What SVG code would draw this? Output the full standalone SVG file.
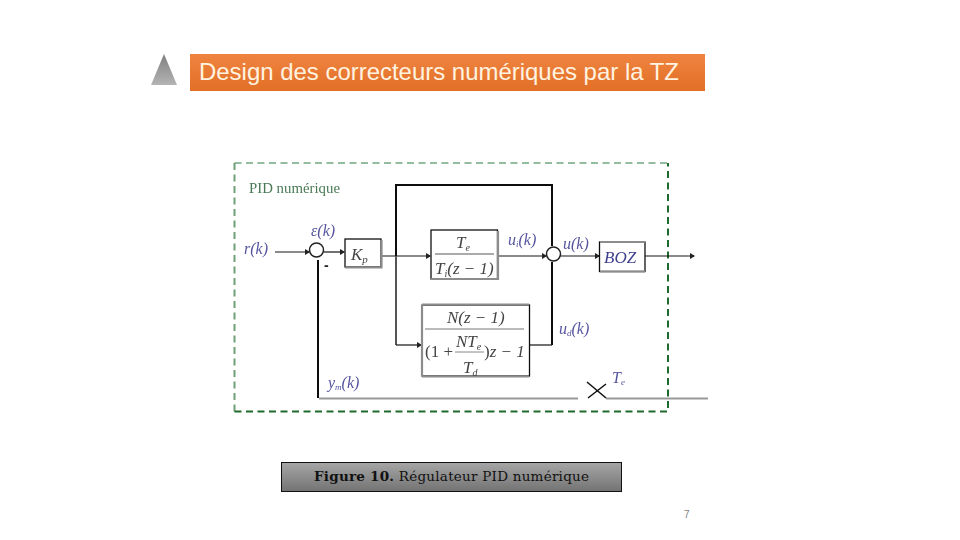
<svg xmlns="http://www.w3.org/2000/svg" width="960" height="540" viewBox="0 0 960 540">
<defs>
<linearGradient id="tri" x1="0" y1="0" x2="0" y2="1"><stop offset="0" stop-color="#7f7f7f"/><stop offset="1" stop-color="#b4b4b4"/></linearGradient>
<linearGradient id="cap" x1="0" y1="0" x2="0" y2="1"><stop offset="0" stop-color="#a6a6a6"/><stop offset="1" stop-color="#737373"/></linearGradient>
<linearGradient id="bar" x1="0" y1="0" x2="0" y2="1"><stop offset="0" stop-color="#ef8440"/><stop offset="1" stop-color="#e26f26"/></linearGradient>
<marker id="a" markerWidth="5" markerHeight="6" refX="4" refY="3" orient="auto" markerUnits="userSpaceOnUse"><path d="M0,0 L5,3 L0,6 Z" fill="#222"/></marker>
<filter id="soft" x="-5%" y="-5%" width="110%" height="110%"><feGaussianBlur stdDeviation="0.35"/></filter>
</defs>
<style>
.w{fill:none;stroke:#1a1a1a;stroke-width:1.2}
.t{fill:none;stroke:#111;stroke-width:2}
.d{fill:none;stroke:#555;stroke-width:2}
.g{fill:none;stroke:#999;stroke-width:2}
.box{fill:#fff;stroke:#111;stroke-width:1.3}
.sh{fill:none;stroke:#8c8c8c;stroke-width:2.200}
.sig{font-family:"Liberation Serif",serif;font-style:italic;font-size:16px;fill:#55559f}
.m{font-family:"Liberation Serif",serif;font-style:italic;font-size:17px;fill:#444}
.r{font-family:"Liberation Serif",serif;font-size:17px;fill:#444}
.soft{filter:url(#soft)}
</style>
<rect width="960" height="540" fill="#fff"/>
<g id="title">
<polygon points="164,54 177,85 151,85" fill="url(#tri)"/>
<rect x="190" y="54" width="515" height="37" fill="url(#bar)"/>
<text x="199" y="80" font-family="Liberation Sans,Arial,sans-serif" font-size="24" fill="#fff3e0" textLength="480" lengthAdjust="spacingAndGlyphs">Design des correcteurs numériques par la TZ</text>
</g>
<g id="pid-frame" class="soft">
<path d="M234.500,163 H668" fill="none" stroke="#2f7a3d" stroke-width="1.200" stroke-dasharray="7 4.500"/>
<path d="M234.500,163 V411.500" fill="none" stroke="#6f9f78" stroke-width="2" stroke-dasharray="7 4.500"/>
<path d="M234.500,411.500 H668 V163" fill="none" stroke="#1f6b2d" stroke-width="2" stroke-dasharray="7 4.500"/>
<text x="249" y="193" font-family="Liberation Serif,serif" font-size="15" fill="#4a7a55" textLength="91" lengthAdjust="spacingAndGlyphs">PID numérique</text>
</g>
<g id="connectors" class="soft">
<path class="w" d="M275,252 H309" marker-end="url(#a)"/>
<path class="w" d="M324,252 H344" marker-end="url(#a)"/>
<path class="w" d="M382,256 H430" marker-end="url(#a)"/>
<path class="t" d="M396,256 V185 H552 V246"/>
<path class="d" d="M396,256 V345"/>
<path class="w" d="M396,345 H421" marker-end="url(#a)"/>
<path class="w" d="M498,256 H546" marker-end="url(#a)"/>
<path class="t" d="M552,345 V262"/>
<path class="w" d="M530,345 H552"/>
<path class="w" d="M561,256 H599" marker-end="url(#a)"/>
<path class="w" d="M645,256 H694" marker-end="url(#a)"/>
<path class="t" d="M318,398 V260"/>
<path class="g" d="M319,398.500 H578"/>
<path class="g" d="M606,398.500 H708"/>
<path d="M587,382 L606,398 M588,398 L606,384" fill="none" stroke="#111" stroke-width="1.500"/>
</g>
<g id="sum1" class="soft"><circle cx="316.500" cy="250" r="7" fill="#fff" stroke="#222" stroke-width="1.500"/></g>
<g id="sum2" class="soft"><circle cx="553.500" cy="254" r="7" fill="#fff" stroke="#222" stroke-width="1.500"/></g>
<g id="kp" class="soft">
<rect class="box" x="345" y="239" width="36" height="28"/>
<path class="sh" d="M345,267.500 H381.500 V240"/>
<text class="m" x="351" y="260">K<tspan font-size="11" dy="3">p</tspan></text>
</g>
<g id="ti" class="soft">
<rect class="box" x="431" y="230" width="66.500" height="49"/>
<path class="sh" d="M431,279 H498 V231"/>
<path d="M435,254 H494" stroke="#aaa" stroke-width="2"/>
<text class="m" x="456" y="248">T<tspan font-size="10" dy="3">e</tspan></text>
<text class="m" x="435" y="274">T<tspan font-size="10" dy="3">i</tspan><tspan dy="-3">(z − 1)</tspan></text>
</g>
<g id="td" class="soft">
<rect class="box" x="422" y="305" width="107.500" height="71"/>
<path class="sh" d="M422,304.500 H529 M422,376.500 H529 M422,305 V376"/>
<path d="M425,329 H524" stroke="#777" stroke-width="1"/>
<path d="M455,352 H484" stroke="#888" stroke-width="1"/>
<text class="m" x="447" y="323">N(z − 1)</text>
<text class="r" x="425" y="357">(1 +</text>
<text class="m" x="456" y="347">NT<tspan font-size="10" dy="3">e</tspan></text>
<text class="m" x="463" y="373">T<tspan font-size="10" dy="3">d</tspan></text>
<text class="m" x="484" y="357"><tspan font-style="normal">)</tspan>z − 1</text>
</g>
<g id="boz" class="soft">
<rect class="box" x="599.500" y="242" width="45.500" height="29.500"/>
<path class="sh" d="M600,242 H645 M600,271.500 H645"/>
<text x="604" y="263" font-family="Liberation Serif,serif" font-style="italic" font-size="17" fill="#3f3f8f">BOZ</text>
</g>
<g id="labels" class="soft">
<text class="sig" x="244" y="254">r(k)</text>
<text class="sig" x="311" y="236">ε(k)</text>
<text class="sig" x="508" y="245">u<tspan font-size="9" dy="2">i</tspan><tspan dy="-2">(k)</tspan></text>
<text class="sig" x="563" y="249">u(k)</text>
<text class="sig" x="559" y="334">u<tspan font-size="9" dy="2">d</tspan><tspan dy="-2">(k)</tspan></text>
<text class="sig" x="328" y="388">y<tspan font-size="9" dy="2">m</tspan><tspan dy="-2">(k)</tspan></text>
<text class="sig" x="612" y="383">T<tspan font-size="9" dy="2">e</tspan></text>
<text x="324" y="270" font-family="Liberation Sans,Arial,sans-serif" font-size="14" font-weight="700" fill="#222">-</text>
</g>
<g id="caption">
<rect x="281.500" y="462.500" width="340" height="29" fill="url(#cap)" stroke="#111" stroke-width="1"/>
<text x="314" y="481" font-family="DejaVu Serif,serif" font-size="13.500" fill="#111" textLength="275" lengthAdjust="spacing"><tspan font-weight="700">Figure 10.</tspan> Régulateur PID numérique</text>
</g>
<text id="page" x="684" y="518" font-family="Liberation Sans,Arial,sans-serif" font-size="10" fill="#7f7f7f">7</text>
</svg>
